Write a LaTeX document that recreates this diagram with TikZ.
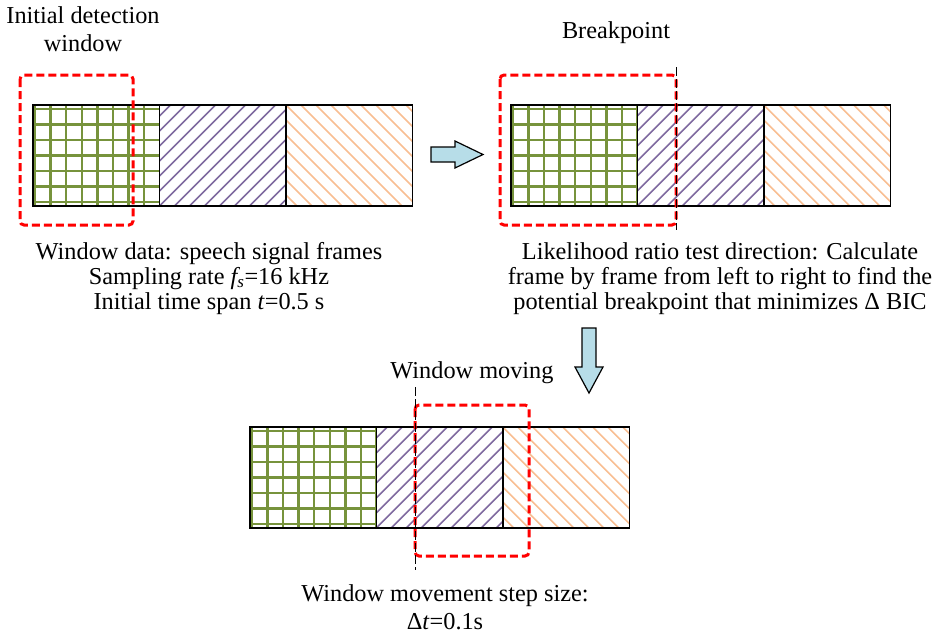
\documentclass[tikz,border=0pt]{standalone}
\usepackage{fontspec}
\setmainfont{Liberation Serif}
\definecolor{gridgreen}{HTML}{77933C}
\definecolor{hatchpurple}{HTML}{7F6A9F}
\definecolor{hatchorange}{HTML}{F8BE92}
\definecolor{arrowblue}{HTML}{B7DDE8}
\begin{document}
\begin{tikzpicture}[x=1pt,y=-1pt,
  cell/.style={draw=black, line width=1.5pt, minimum width=126.5pt,
    minimum height=101pt, inner sep=0pt, outer sep=0pt},
  gridcell/.style={cell, path picture={
    \foreach \k in {0,...,8}
      \draw[gridgreen, line width=2.3pt]
        ([xshift=2pt+\k*15.6pt]path picture bounding box.south west) --
        ([xshift=2pt+\k*15.6pt]path picture bounding box.north west);
    \foreach \k in {0,...,6}
      \draw[gridgreen, line width=2.3pt]
        ([yshift=4pt+\k*15.5pt]path picture bounding box.south west) --
        ([yshift=4pt+\k*15.5pt]path picture bounding box.south east);
  }},
  purplecell/.style={cell, path picture={
    \foreach \k in {-8,...,9}
      \draw[hatchpurple, line width=1.6pt]
        ([xshift=\k*15pt]path picture bounding box.south west) --
        ([xshift=\k*15pt+101pt]path picture bounding box.north west);
  }},
  orangecell/.style={cell, path picture={
    \foreach \k in {-8,...,9}
      \draw[hatchorange, line width=1.6pt]
        ([xshift=\k*15pt]path picture bounding box.north west) --
        ([xshift=\k*15pt+101pt]path picture bounding box.south west);
  }},
  redwin/.style={draw=red, line width=3pt, dash pattern=on 8pt off 4pt,
    rounded corners=4pt},
  bpline/.style={draw=black, line width=0.9pt, dash pattern=on 9pt off 3pt},
  bluearrow/.style={draw=black, line width=1.2pt, fill=arrowblue, line join=miter},
  lbl/.style={anchor=base, inner sep=0pt, font=\fontsize{24.3}{25}\selectfont}
]
\useasboundingbox (0,0) rectangle (942,638);

% initial detection window
\node[gridcell]   (a1) at (96.25,155.5) {};
\node[purplecell] (a2) at (222.75,155.5) {};
\node[orangecell] (a3) at (349.25,155.5) {};
\draw[redwin] (20,75) rectangle (133,225);

% breakpoint search
\node[gridcell]   (b1) at (574,155.5) {};
\node[purplecell] (b2) at (700.5,155.5) {};
\node[orangecell] (b3) at (827,155.5) {};
\draw[redwin] (500,75) rectangle (676,225);
\coordinate (bptop) at (676,67);
\coordinate (bpbot) at (676,230);
\draw[bpline] (bptop) -- (bpbot);

% moved window
\node[gridcell]   (c1) at (313,477.5) {};
\node[purplecell] (c2) at (439.5,477.5) {};
\node[orangecell] (c3) at (566,477.5) {};
\draw[redwin] (415,405) rectangle (529,556);
\coordinate (mvtop) at (415,387);
\coordinate (mvbot) at (415,570);
\draw[bpline] (mvtop) -- (mvbot);

% block arrows
\draw[bluearrow] (431,147) -- (455,147) -- (455,141) -- (483,154.5)
  -- (455,168) -- (455,162) -- (431,162) -- cycle;
\draw[bluearrow] (582,328) -- (596,328) -- (596,367) -- (603,367)
  -- (589,393) -- (575,367) -- (582,367) -- cycle;

% labels
\node[lbl] (initA) at (83,23) {Initial detection};
\node[lbl] (initB) at (83,51) {window};
\node[lbl] (bp) at (616,38) {Breakpoint};
\node[lbl] (dataA) at (209,259) {Window data: speech signal frames};
\node[lbl] (dataB) at (209,284) {Sampling rate \textit{f\textsubscript{s}}=16 kHz};
\node[lbl] (dataC) at (209,309) {Initial time span \textit{t}=0.5 s};
\node[lbl] (lrA) at (720,259) {Likelihood ratio test direction: Calculate};
\node[lbl] (lrB) at (720,284) {frame by frame from left to right to find the};
\node[lbl] (lrC) at (720,309) {potential breakpoint that minimizes Δ BIC};
\node[lbl] (mv) at (472,378) {Window moving};
\node[lbl] (stepA) at (445,601) {Window movement step size:};
\node[lbl] (stepB) at (445,629) {Δ\textit{t}=0.1s};
\end{tikzpicture}
\end{document}
